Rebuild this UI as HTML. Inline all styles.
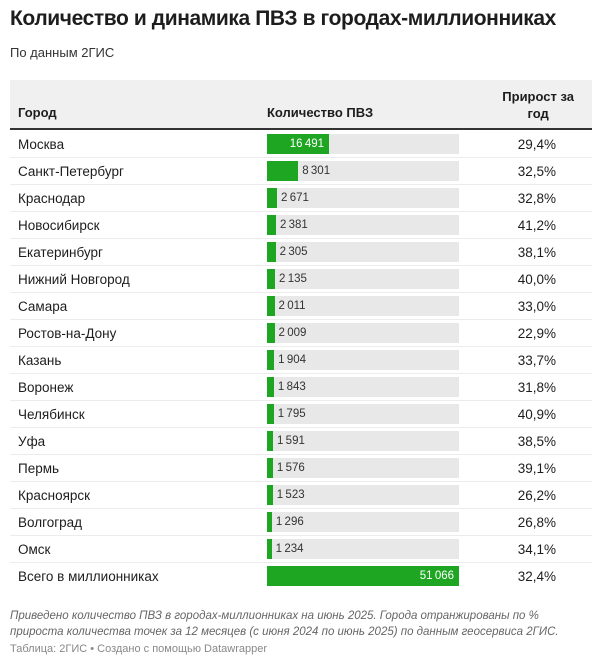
<!DOCTYPE html>
<html><head><meta charset="utf-8">
<style>
body{margin:0;width:600px;height:664px;background:#fff;font-family:"Liberation Sans",sans-serif;color:#1d1d1d;position:relative;overflow:hidden}
.t{position:absolute;left:10px;top:7px;font-size:21px;font-weight:bold;letter-spacing:-0.4px}
.s{position:absolute;left:10px;top:45px;font-size:13px;color:#333}
.hd{position:absolute;left:10px;top:80px;width:582px;height:48px;background:#f0f0f0;border-bottom:2px solid #333}
.hd div{position:absolute;font-size:13px;font-weight:bold}
.row{position:absolute;left:10px;width:582px;height:26px;border-bottom:1px solid #ececec}
.city{position:absolute;left:8px;top:6px;font-size:13.5px}
.track{position:absolute;left:257px;top:3px;width:192px;height:20px;background:#e8e8e8}
.bar{position:absolute;left:0;top:0;height:20px;background:#1ea623}
.val{position:absolute;top:0;line-height:20px;font-size:11.5px;white-space:nowrap}
.pct{position:absolute;right:36px;top:6px;font-size:13.5px}
.note{position:absolute;left:10px;top:608px;font-size:11.5px;font-style:italic;color:#666;line-height:16px}
.src{position:absolute;left:10px;top:643px;font-size:11px;color:#888}
</style></head><body>
<div class="t">Количество и динамика ПВЗ в городах-миллионниках</div>
<div class="s">По данным 2ГИС</div>
<div class="hd">
<div style="left:8px;top:25px">Город</div>
<div style="left:257px;top:25px">Количество ПВЗ</div>
<div style="right:18px;top:8px;text-align:center;line-height:17px">Прирост за<br>год</div>
</div>
<div id="rows"></div>
<div class="note">Приведено количество ПВЗ в городах-миллионниках на июнь 2025. Города отранжированы по %<br>прироста количества точек за 12 месяцев (с июня 2024 по июнь 2025) по данным геосервиса 2ГИС.</div>
<div class="src">Таблица: 2ГИС • Создано с помощью Datawrapper</div>
<script>
const cities=["Москва","Санкт-Петербург","Краснодар","Новосибирск","Екатеринбург","Нижний Новгород","Самара","Ростов-на-Дону","Казань","Воронеж","Челябинск","Уфа","Пермь","Красноярск","Волгоград","Омск","Всего в миллионниках"];
const counts=[16491,8301,2671,2381,2305,2135,2011,2009,1904,1843,1795,1591,1576,1523,1296,1234,51066];
const growth=[29.4,32.5,32.8,41.2,38.1,40.0,33.0,22.9,33.7,31.8,40.9,38.5,39.1,26.2,26.8,34.1,32.4];
const maxV=Math.max(...counts), W=192;
const fmt=n=>String(n).replace(/\B(?=(\d{3})+(?!\d))/g,"\u2009");
const host=document.getElementById('rows');
cities.forEach((c,i)=>{
 const r=document.createElement('div');r.className='row';r.style.top=(131+i*27)+'px';
 
 
 if(i==cities.length-1)r.style.borderBottom='none';
 const w=counts[i]/maxV*W;
 const inside=w>50;
 r.innerHTML=`<div class="city">${c}</div><div class="track"><div class="bar" style="width:${w}px"></div><div class="val" style="${inside?`left:${w-60}px;width:55px;text-align:right;color:#fff`:`left:${w+4}px;color:#333`}">${fmt(counts[i])}</div></div><div class="pct">${growth[i].toFixed(1).replace('.',',')}%</div>`;
 r.querySelector('.city');
 r.querySelector('.city');
 r.querySelector('.bar');
 r.querySelector('.bar');
 r.querySelector('.track');
 r.querySelector('.track');
 r.querySelector('.val');
 r.querySelector('.val');
 r.querySelector('.pct');
 r.querySelector('.pct');
 host.appendChild(r);
});
</script>
</body></html>
